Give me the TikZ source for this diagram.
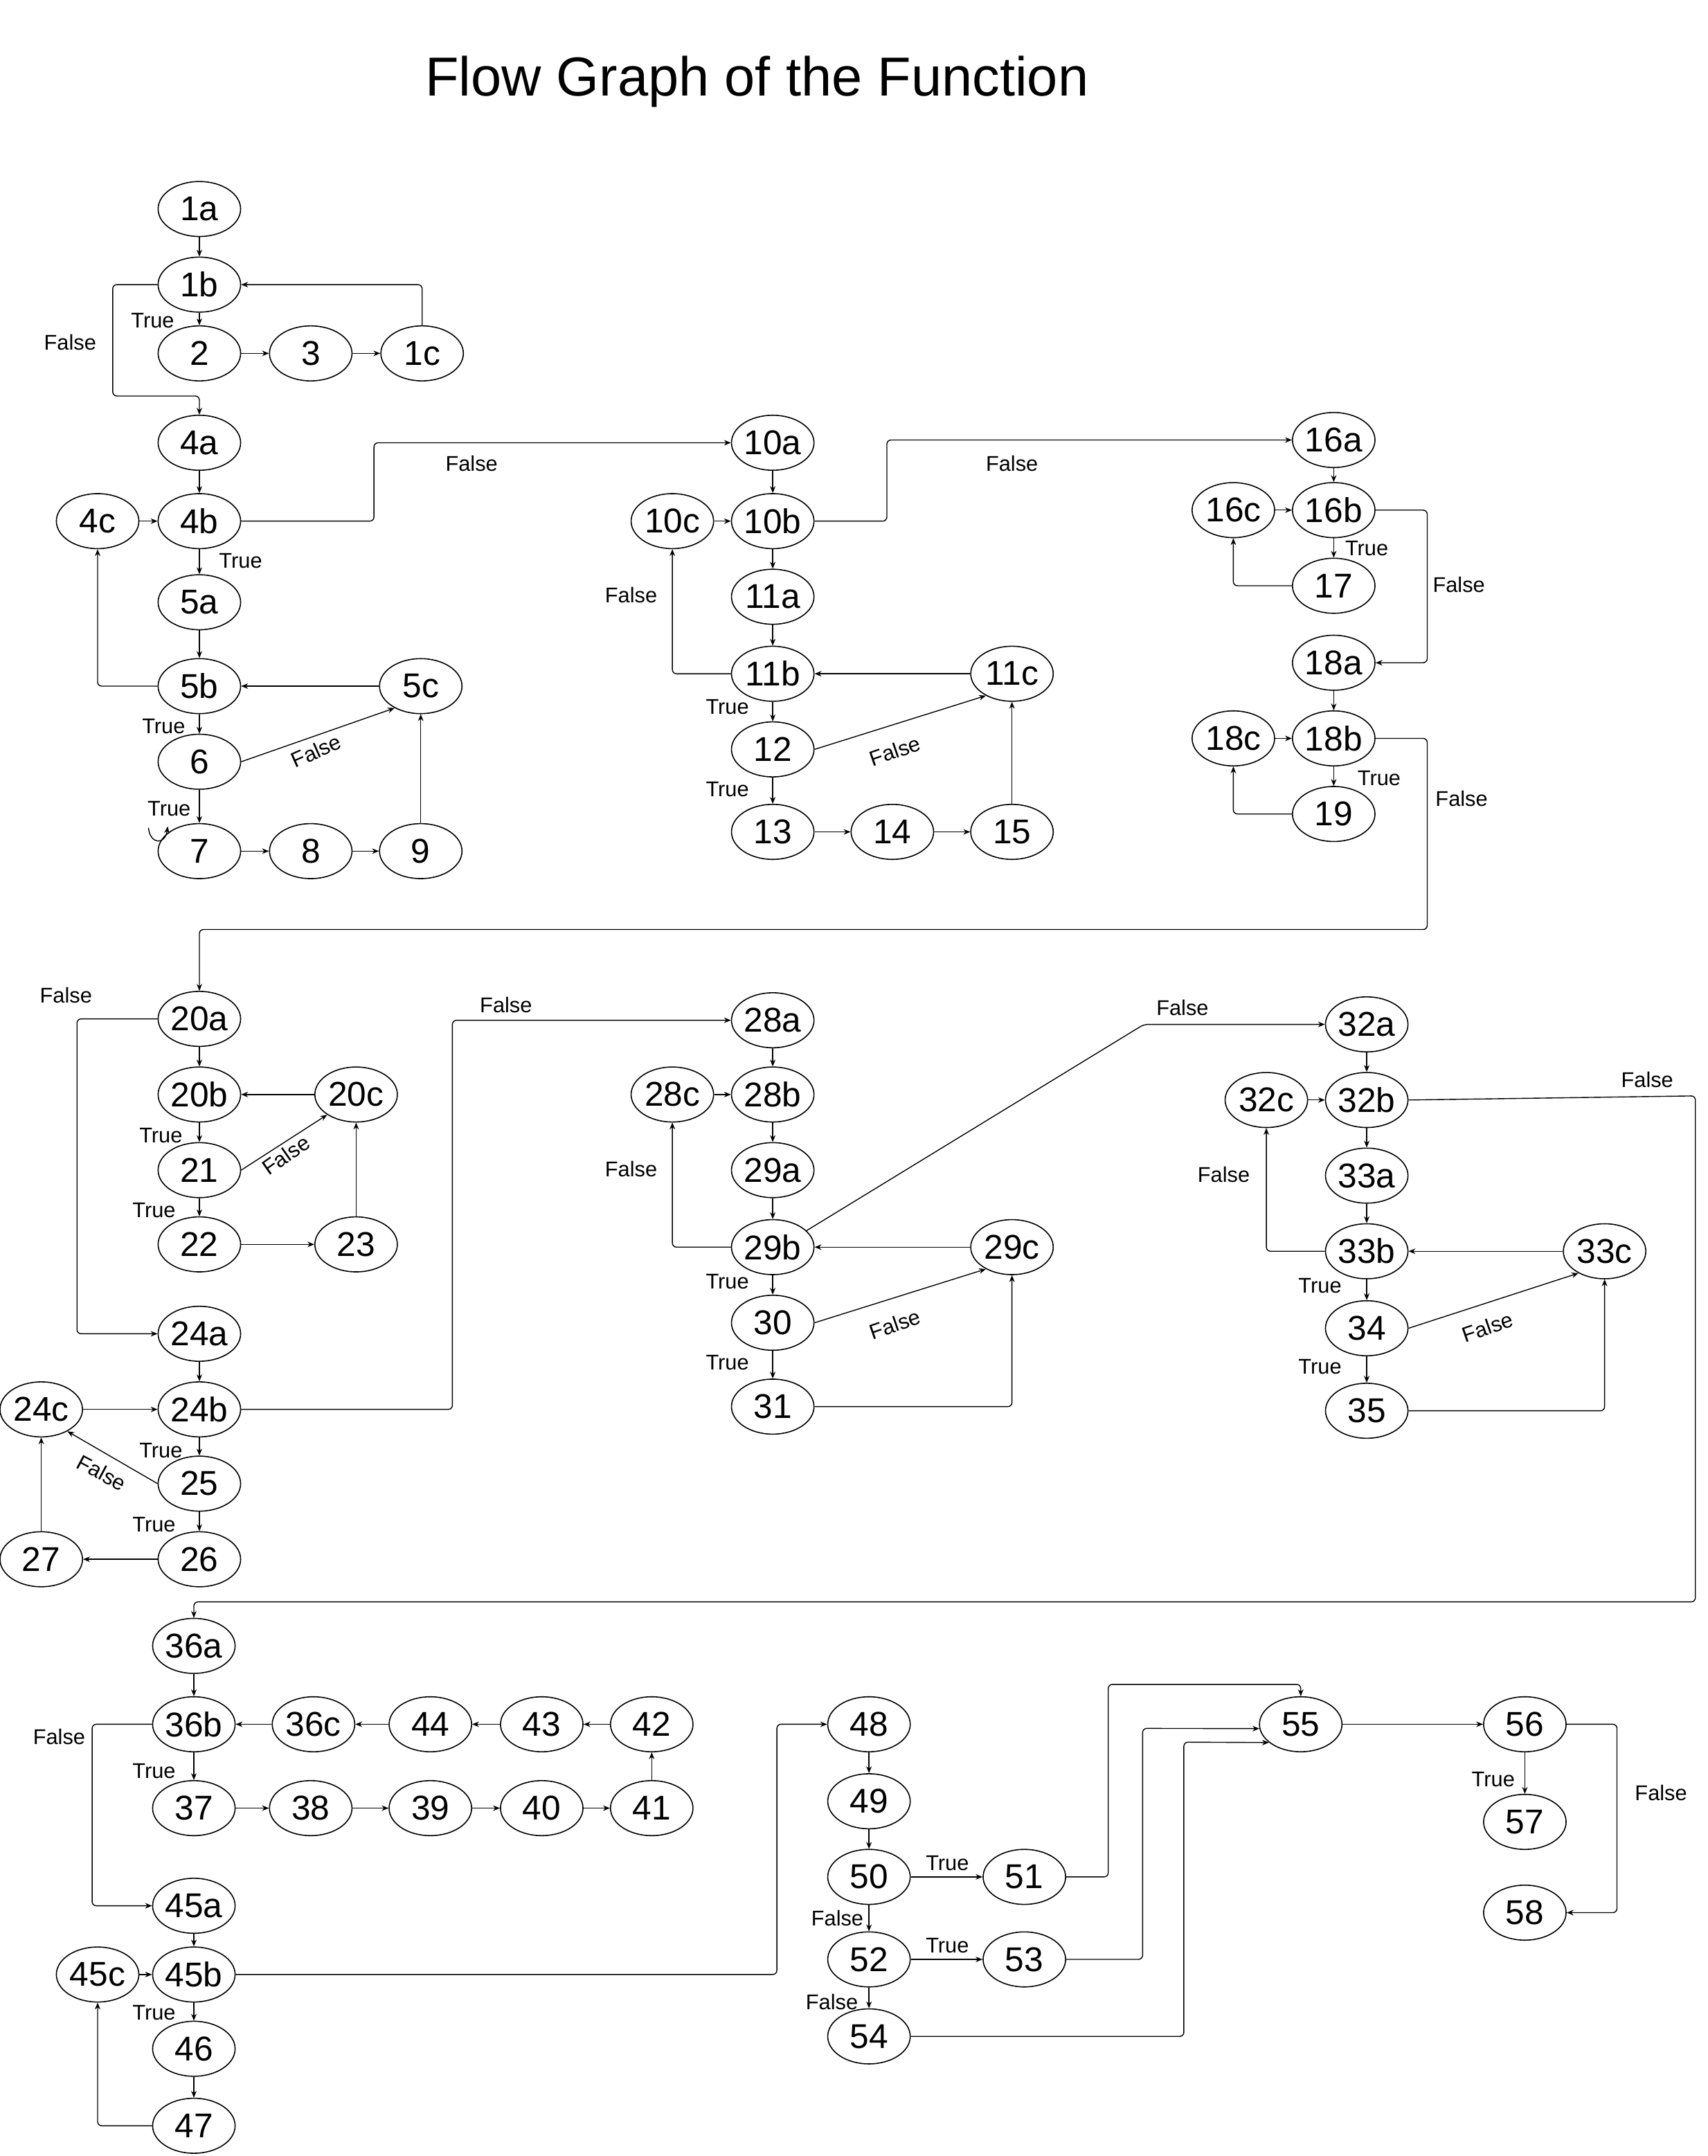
\documentclass[tikz,border=0pt]{standalone}
\usepackage{fontspec}
\setmainfont{Liberation Sans}
\usetikzlibrary{shapes.geometric,arrows.meta}
\tikzset{
 nd/.style={ellipse,draw,line width=0.8pt,minimum width=60pt,minimum height=40pt,inner sep=0pt,font=\fontsize{25}{30}\selectfont},
 lab/.style={inner sep=0pt,font=\fontsize{15.5}{18}\selectfont},
 arr/.style={-{Stealth[length=5pt,width=4pt]},line width=0.7pt,rounded corners=3pt},
}
\begin{document}
\begin{tikzpicture}[x=1pt,y=-1pt]
\fill[white] (0,0) rectangle (1242,1568);
\useasboundingbox (0,0) rectangle (1242,1568);
\node[inner sep=0pt,anchor=base,font=\fontsize{40}{48}\selectfont] (title) at (550.5,69.8) {Flow Graph of the Function};
% section 1
\node[nd] (n1a) at (145,152) {1a};
\node[nd] (n1b) at (145,207) {1b};
\node[nd] (n2) at (145,257) {2};
\node[nd] (n3) at (226,257) {3};
\node[nd] (n1c) at (307,257) {1c};
\node[nd] (n4a) at (145,322) {4a};
\node[nd] (n4b) at (145,379) {4b};
\node[nd] (n4c) at (71,379) {4c};
\node[nd] (n5a) at (145,438) {5a};
\node[nd] (n5b) at (145,499) {5b};
\node[nd] (n5c) at (306,499) {5c};
\node[nd] (n6) at (145,554) {6};
\node[nd] (n7) at (145,619) {7};
\node[nd] (n8) at (226,619) {8};
\node[nd] (n9) at (306,619) {9};
% section 2
\node[nd] (n10a) at (562,322) {10a};
\node[nd] (n10b) at (562,379) {10b};
\node[nd] (n10c) at (489,379) {10c};
\node[nd] (n11a) at (562,434) {11a};
\node[nd] (n11b) at (562,490) {11b};
\node[nd] (n11c) at (736,490) {11c};
\node[nd] (n12) at (562,545) {12};
\node[nd] (n13) at (562,605) {13};
\node[nd] (n14) at (649,605) {14};
\node[nd] (n15) at (736,605) {15};
% section 3
\node[nd] (n16a) at (970,320) {16a};
\node[nd] (n16b) at (970,371) {16b};
\node[nd] (n16c) at (897,371) {16c};
\node[nd] (n17) at (970,426) {17};
\node[nd] (n18a) at (970,482) {18a};
\node[nd] (n18b) at (970,537) {18b};
\node[nd] (n18c) at (897,537) {18c};
\node[nd] (n19) at (970,592) {19};
% section 4
\node[nd] (n20a) at (145,741) {20a};
\node[nd] (n20b) at (145,796) {20b};
\node[nd] (n20c) at (259,796) {20c};
\node[nd] (n21) at (145,851) {21};
\node[nd] (n22) at (145,905) {22};
\node[nd] (n23) at (259,905) {23};
\node[nd] (n24a) at (145,970) {24a};
\node[nd] (n24b) at (145,1025) {24b};
\node[nd] (n24c) at (30,1025) {24c};
\node[nd] (n25) at (145,1079) {25};
\node[nd] (n26) at (145,1134) {26};
\node[nd] (n27) at (30,1134) {27};
% section 5
\node[nd] (n28a) at (562,742) {28a};
\node[nd] (n28b) at (562,796) {28b};
\node[nd] (n28c) at (489,796) {28c};
\node[nd] (n29a) at (562,851) {29a};
\node[nd] (n29b) at (562,907) {29b};
\node[nd] (n29c) at (736,907) {29c};
\node[nd] (n30) at (562,962) {30};
\node[nd] (n31) at (562,1023) {31};
% section 6
\node[nd] (n32a) at (994,745) {32a};
\node[nd] (n32b) at (994,800) {32b};
\node[nd] (n32c) at (921,800) {32c};
\node[nd] (n33a) at (994,855) {33a};
\node[nd] (n33b) at (994,910) {33b};
\node[nd] (n33c) at (1167,910) {33c};
\node[nd] (n34) at (994,966) {34};
\node[nd] (n35) at (994,1026) {35};
% section 7
\node[nd] (n36a) at (141,1197) {36a};
\node[nd] (n36b) at (141,1254) {36b};
\node[nd] (n36c) at (228,1254) {36c};
\node[nd] (n44) at (313,1254) {44};
\node[nd] (n43) at (394,1254) {43};
\node[nd] (n42) at (474,1254) {42};
\node[nd] (n37) at (141,1315) {37};
\node[nd] (n38) at (226,1315) {38};
\node[nd] (n39) at (313,1315) {39};
\node[nd] (n40) at (394,1315) {40};
\node[nd] (n41) at (474,1315) {41};
\node[nd] (n45a) at (141,1386) {45a};
\node[nd] (n45b) at (141,1436) {45b};
\node[nd] (n45c) at (71,1436) {45c};
\node[nd] (n46) at (141,1490) {46};
\node[nd] (n47) at (141,1546) {47};
% section 8
\node[nd] (n48) at (632,1254) {48};
\node[nd] (n49) at (632,1310) {49};
\node[nd] (n50) at (632,1365) {50};
\node[nd] (n51) at (745,1365) {51};
\node[nd] (n52) at (632,1425) {52};
\node[nd] (n53) at (745,1425) {53};
\node[nd] (n54) at (632,1481) {54};
\node[nd] (n55) at (946,1254) {55};
\node[nd] (n56) at (1109,1254) {56};
\node[nd] (n57) at (1109,1325) {57};
\node[nd] (n58) at (1109,1391) {58};

% labels
\node[lab] (l1) at (111,233) {True};
\node[lab] (l2) at (51,249) {False};
\node[lab] (l3) at (343,337) {False};
\node[lab] (l4) at (175,408) {True};
\node[lab] (l5) at (119,528) {True};
\node[lab,rotate=24] (l6) at (230,546) {False};
\node[lab] (l7) at (123,588) {True};
\node[lab] (l8) at (736,337) {False};
\node[lab] (l9) at (459,433) {False};
\node[lab] (l10) at (529,514) {True};
\node[lab,rotate=19] (l11) at (651,546) {False};
\node[lab] (l12) at (529,574) {True};
\node[lab] (l13) at (994,399) {True};
\node[lab] (l14) at (1061,425) {False};
\node[lab] (l15) at (1003,566) {True};
\node[lab] (l16) at (1063,581) {False};
\node[lab] (l17) at (48,724) {False};
\node[lab] (l18) at (117,826) {True};
\node[lab,rotate=35] (l19) at (208,840) {False};
\node[lab] (l20) at (112,880) {True};
\node[lab] (l21) at (368,731) {False};
\node[lab] (l22) at (117,1055) {True};
\node[lab,rotate=-28] (l23) at (74,1071) {False};
\node[lab] (l24) at (112,1109) {True};
\node[lab] (l25) at (459,850) {False};
\node[lab] (l26) at (529,932) {True};
\node[lab,rotate=19] (l27) at (651,963) {False};
\node[lab] (l28) at (529,991) {True};
\node[lab] (l29) at (860,733) {False};
\node[lab] (l30) at (890,854) {False};
\node[lab] (l31) at (960,935) {True};
\node[lab,rotate=19] (l32) at (1082,965) {False};
\node[lab] (l33) at (960,994) {True};
\node[lab] (l34) at (1198,785) {False};
\node[lab] (l35) at (43,1263) {False};
\node[lab] (l36) at (112,1288) {True};
\node[lab] (l37) at (112,1464) {True};
\node[lab] (l38) at (689,1355) {True};
\node[lab] (l39) at (609,1395) {False};
\node[lab] (l40) at (689,1415) {True};
\node[lab] (l41) at (605,1456) {False};
\node[lab] (l42) at (1086,1294) {True};
\node[lab] (l43) at (1208,1304) {False};

% connectors section 1
\draw[arr] (n1a) -- (n1b);
\draw[arr] (n1b) -- (n2);
\draw[arr] (n2) -- (n3);
\draw[arr] (n3) -- (n1c);
\draw[arr] (n1c.north) |- (n1b.east);
\draw[arr] (n1b.west) -| (82,288) -| (n4a.north);
\draw[arr] (n4a) -- (n4b);
\draw[arr] (n4c) -- (n4b);
\draw[arr] (n4b.east) -| (272,322) -- (n10a.west);
\draw[arr] (n4b) -- (n5a);
\draw[arr] (n5a) -- (n5b);
\draw[arr] (n5b.west) -| (n4c.south);
\draw[arr] (n5c) -- (n5b);
\draw[arr] (n5b) -- (n6);
\draw[arr] (n6.east) -- (n5c.-140);
\draw[arr] (n6) -- (n7);
\coordinate (lp1) at (108,602);
\coordinate (lp2) at (122,601);
\draw[arr] (lp1) .. controls (109,614) and (120,615) .. (lp2);
\draw[arr] (n7) -- (n8);
\draw[arr] (n8) -- (n9);
\draw[arr] (n9) -- (n5c);
% section 2
\draw[arr] (n10a) -- (n10b);
\draw[arr] (n10c) -- (n10b);
\draw[arr] (n10b.east) -| (645,320) -- (n16a.west);
\draw[arr] (n10b) -- (n11a);
\draw[arr] (n11a) -- (n11b);
\draw[arr] (n11b.west) -| (n10c.south);
\draw[arr] (n11c) -- (n11b);
\draw[arr] (n11b) -- (n12);
\draw[arr] (n12.east) -- (n11c.-140);
\draw[arr] (n12) -- (n13);
\draw[arr] (n13) -- (n14);
\draw[arr] (n14) -- (n15);
\draw[arr] (n15) -- (n11c);
% section 3
\draw[arr] (n16a) -- (n16b);
\draw[arr] (n16c) -- (n16b);
\draw[arr] (n16b) -- (n17);
\draw[arr] (n17.west) -| (n16c.south);
\draw[arr] (n16b.east) -| (1038,482) -- (n18a.east);
\draw[arr] (n18a) -- (n18b);
\draw[arr] (n18c) -- (n18b);
\draw[arr] (n18b) -- (n19);
\draw[arr] (n19.west) -| (n18c.south);
\draw[arr] (n18b.east) -| (1038,676) -| (n20a.north);
% section 4
\draw[arr] (n20a) -- (n20b);
\draw[arr] (n20a.west) -| (56,970) -- (n24a.west);
\draw[arr] (n20c) -- (n20b);
\draw[arr] (n20b) -- (n21);
\draw[arr] (n21.east) -- (n20c.-145);
\draw[arr] (n21) -- (n22);
\draw[arr] (n22) -- (n23);
\draw[arr] (n23) -- (n20c);
\draw[arr] (n24a) -- (n24b);
\draw[arr] (n24c) -- (n24b);
\draw[arr] (n24b.east) -| (329,742) -- (n28a.west);
\draw[arr] (n24b) -- (n25);
\draw[arr] (n25.west) -- (n24c.-40);
\draw[arr] (n25) -- (n26);
\draw[arr] (n26) -- (n27);
\draw[arr] (n27) -- (n24c);
% section 5
\draw[arr] (n28a) -- (n28b);
\draw[arr] (n28c) -- (n28b);
\draw[arr] (n28b) -- (n29a);
\draw[arr] (n29a) -- (n29b);
\draw[arr] (n29b.west) -| (n28c.south);
\draw[arr] (n29c) -- (n29b);
\draw[arr] (n29b) -- (n30);
\draw[arr] (n30.east) -- (n29c.-140);
\draw[arr] (n30) -- (n31);
\draw[arr] (n31.east) -| (n29c.south);
\draw[arr] (n29b.26) -- (832,745) -- (n32a.west);
% section 6
\draw[arr] (n32a) -- (n32b);
\draw[arr] (n32c) -- (n32b);
\draw[arr] (n32b) -- (n33a);
\draw[arr] (n33a) -- (n33b);
\draw[arr] (n33b.west) -| (n32c.south);
\draw[arr] (n33c) -- (n33b);
\draw[arr] (n33b) -- (n34);
\draw[arr] (n34.east) -- (n33c.-140);
\draw[arr] (n34) -- (n35);
\draw[arr] (n35.east) -| (n33c.south);
\draw[arr] (n32b.east) -- (1233,797) -- (1233,1165) -| (n36a.north);
% section 7
\draw[arr] (n36a) -- (n36b);
\draw[arr] (n36c) -- (n36b);
\draw[arr] (n44) -- (n36c);
\draw[arr] (n43) -- (n44);
\draw[arr] (n42) -- (n43);
\draw[arr] (n36b) -- (n37);
\draw[arr] (n37) -- (n38);
\draw[arr] (n38) -- (n39);
\draw[arr] (n39) -- (n40);
\draw[arr] (n40) -- (n41);
\draw[arr] (n41) -- (n42);
\draw[arr] (n36b.west) -| (67,1386) -- (n45a.west);
\draw[arr] (n45a) -- (n45b);
\draw[arr] (n45c) -- (n45b);
\draw[arr] (n45b) -- (n46);
\draw[arr] (n46) -- (n47);
\draw[arr] (n47.west) -| (n45c.south);
\draw[arr] (n45b.east) -| (565,1254) -- (n48.west);
% section 8
\draw[arr] (n48) -- (n49);
\draw[arr] (n49) -- (n50);
\draw[arr] (n50) -- (n51);
\draw[arr] (n50) -- (n52);
\draw[arr] (n52) -- (n53);
\draw[arr] (n52) -- (n54);
\draw[arr] (n51.east) -| (806,1225) -| (n55.north);
\draw[arr] (n53.east) -| (831,1257) -- (n55.-174);
\draw[arr] (n54.east) -| (861,1267) -- (n55.-150);
\draw[arr] (n55) -- (n56);
\draw[arr] (n56) -- (n57);
\draw[arr] (n56.east) -| (1176,1391) -- (n58.east);
\end{tikzpicture}
\end{document}
